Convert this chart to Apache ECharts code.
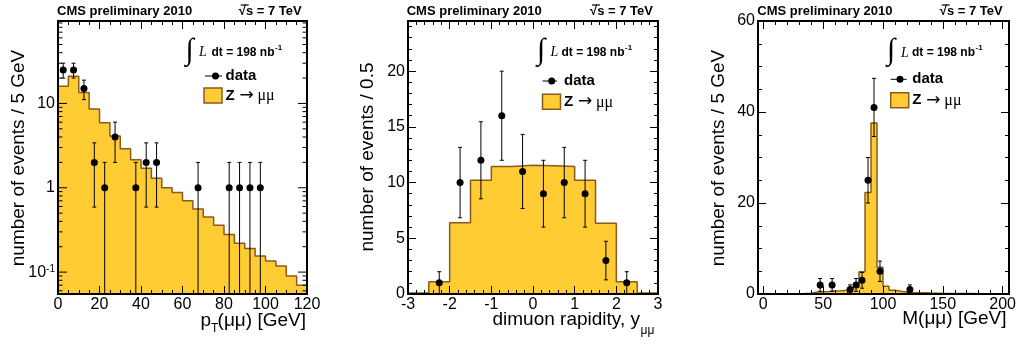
<!DOCTYPE html>
<html>
<head>
<meta charset="utf-8">
<script src="https://cdn.jsdelivr.net/npm/echarts@6/dist/echarts.min.js"></script>
<style>
  html, body { margin: 0; padding: 0; background: #fff; }
  #container { width: 1019px; height: 345px; }
</style>
</head>
<body>
<div id="container"></div>
<script>
// ---- panel 1: pT(mumu), log scale ----
const ptEdges = [0, 5, 10, 15, 20, 25, 30, 35, 40, 45, 50, 55, 60, 65, 70, 75, 80, 85, 90, 95, 100, 105, 110, 115, 120]
const ptMC = [16, 21, 13.5, 8.6, 5.9, 4.1, 2.9, 2.15, 1.7, 1.3, 1.0, 0.88, 0.7, 0.56, 0.45, 0.36, 0.28, 0.22, 0.19, 0.155, 0.135, 0.118, 0.09, 0.07]
const ptDataX = [2.5, 7.5, 12.5, 17.5, 22.5, 27.5, 37.5, 42.5, 47.5, 67.5, 82.5, 87.5, 92.5, 97.5]
const ptData = [25, 25, 15, 2, 1, 4, 1, 2, 2, 1, 1, 1, 1, 1]
const ptErrLo = [20, 20, 11.1, 0.59, 0, 2, 0, 0.59, 0.59, 0, 0, 0, 0, 0]
const ptErrHi = [30, 30, 18.9, 3.41, 2, 6, 2, 3.41, 3.41, 2, 2, 2, 2, 2]
const logMajorTicks = [0.1, 1, 10]
const logMinorTicks = [0.06, 0.07, 0.08, 0.09, 0.2, 0.3, 0.4, 0.5, 0.6, 0.7, 0.8, 0.9, 2, 3, 4, 5, 6, 7, 8, 9, 20, 30, 40, 50, 60, 70, 80, 90]

// ---- panel 2: dimuon rapidity ----
const yEdges = [-3, -2.5, -2, -1.5, -1, -0.5, 0, 0.5, 1, 1.5, 2, 2.5, 3]
const yMC = [0.1, 1.1, 6.4, 10.2, 11.45, 11.55, 11.5, 11.45, 10.2, 6.35, 1.1, 0.1]
const yDataX = [-2.25, -1.75, -1.25, -0.75, -0.25, 0.25, 0.75, 1.25, 1.75, 2.25]
const yData = [1, 10, 12, 16, 11, 9, 10, 9, 3, 1]
const yErrLo = [0, 6.84, 8.54, 12, 7.68, 6, 6.84, 6, 1.27, 0]
const yErrHi = [2, 13.16, 15.46, 20, 14.32, 12, 13.16, 12, 4.73, 2]

// ---- panel 3: M(mumu) ----
const mEdges = [0, 5, 10, 15, 20, 25, 30, 35, 40, 45, 50, 55, 60, 65, 70, 75, 80, 85, 90, 95, 100,
  105, 110, 115, 120, 125, 130, 135, 140, 145, 150, 155, 160, 165, 170, 175, 180, 185, 190, 195, 200]
const mMC = [0.05, 0.05, 0.05, 0.05, 0.08, 0.08, 0.1, 0.15,
  0.45, 0.5, 0.55, 0.65, 0.7, 0.8, 1.0, 1.5,
  4.9, 22.3, 37.6, 5.9,
  1.7, 0.8, 0.6, 0.45, 0.35, 0.3, 0.25, 0.2, 0.18, 0.15,
  0.13, 0.12, 0.1, 0.1, 0.09, 0.08, 0.08, 0.07, 0.06, 0.06]
const mDataX = [47.5, 57.5, 72.5, 77.5, 82.5, 87.5, 92.5, 97.5, 122.5]
const mData = [2, 2, 1, 2, 3, 25, 41, 5, 1]
const mErrLo = [0.59, 0.59, 0, 0.59, 1.27, 20, 34.6, 2.76, 0]
const mErrHi = [3.41, 3.41, 2, 3.41, 4.73, 30, 47.4, 7.24, 2]

const FONT = '"Liberation Sans", Arial, sans-serif'
const SERIF = '"Liberation Serif", "Times New Roman", serif'
const FILL = '#ffcc33'
const EDGE = '#8a5a1c'

const dom = document.getElementById('container')
const myChart = echarts.init(dom)

function stepData(edges, vals) {
    return edges.map((e, i) => [e, vals[Math.min(i, vals.length - 1)]])
}

function histSeries(xi, yi, edges, vals, origin) {
    return {
        type: 'line', xAxisIndex: xi, yAxisIndex: yi, step: 'end', symbol: 'none', silent: true,
        data: stepData(edges, vals),
        lineStyle: { color: EDGE, width: 1.5 },
        areaStyle: { color: FILL, opacity: 1, origin: origin },
        z: 2
    }
}

function pointSeries(xi, yi, xs, ys) {
    return {
        type: 'scatter', xAxisIndex: xi, yAxisIndex: yi, symbol: 'circle', symbolSize: 7,
        data: xs.map((x, i) => [x, ys[i]]),
        itemStyle: { color: '#000', opacity: 1 },
        z: 4
    }
}

function errSeries(xi, yi, xs, lo, hi, floor) {
    return {
        type: 'custom', xAxisIndex: xi, yAxisIndex: yi, silent: true, z: 3,
        data: xs.map((x, i) => [x, lo[i], hi[i]]),
        encode: { x: 0, y: [1, 2] },
        renderItem: (params, api) => {
            const x = api.value(0)
            const l = api.value(1)
            const h = api.value(2)
            const top = api.coord([x, h])
            const bot = api.coord([x, Math.max(l, floor)])
            const st = { stroke: '#000', lineWidth: 1 }
            const children = [
                { type: 'line', shape: { x1: top[0], y1: top[1], x2: bot[0], y2: bot[1] }, style: st },
                { type: 'line', shape: { x1: top[0] - 2, y1: top[1], x2: top[0] + 2, y2: top[1] }, style: st }
            ]
            if (l > floor) {
                children.push({ type: 'line', shape: { x1: bot[0] - 2, y1: bot[1], x2: bot[0] + 2, y2: bot[1] }, style: st })
            }
            return { type: 'group', children: children }
        }
    }
}

function logTickSeries() {
    const data = logMajorTicks.map(v => [0, v, 9]).concat(logMinorTicks.map(v => [0, v, 4.5]))
    return {
        type: 'custom', xAxisIndex: 0, yAxisIndex: 0, silent: true, clip: false, z: 10,
        data: data,
        renderItem: (params, api) => {
            const v = api.value(1)
            const len = api.value(2)
            const a = api.coord([0, v])
            const b = api.coord([120, v])
            const st = { stroke: '#000', lineWidth: 1 }
            return {
                type: 'group',
                children: [
                    { type: 'line', shape: { x1: a[0], y1: a[1], x2: a[0] + len, y2: a[1] }, style: st },
                    { type: 'line', shape: { x1: b[0] - len, y1: b[1], x2: b[0], y2: b[1] }, style: st }
                ]
            }
        }
    }
}

function axis(grid, pos, min, max, interval, minorSplit, labels, lineShow, ticksShow) {
    return {
        type: 'value', gridIndex: grid, position: pos, min: min, max: max, interval: interval, z: 10,
        axisLine: { show: lineShow, onZero: false, lineStyle: { color: '#000', width: 2 } },
        axisTick: { show: ticksShow, inside: true, length: 8, lineStyle: { color: '#000', width: 1 } },
        minorTick: { show: ticksShow, splitNumber: minorSplit, length: 4, lineStyle: { color: '#000', width: 1 } },
        axisLabel: { show: labels, color: '#000', fontSize: 16, fontFamily: FONT, margin: 3, showMaxLabel: pos === 'bottom' || max === 60 },
        splitLine: { show: false },
        minorSplitLine: { show: false }
    }
}

function logAxis(pos, labels) {
    return {
        type: 'log', logBase: 10, gridIndex: 0, position: pos, min: 0.055, max: 95, z: 10,
        axisLine: { show: true, onZero: false, lineStyle: { color: '#000', width: 2 } },
        axisTick: { show: false },
        minorTick: { show: false },
        axisLabel: {
            show: labels, color: '#000', fontSize: 16, fontFamily: FONT, margin: 3,
            showMinLabel: false, showMaxLabel: false,
            formatter: (v) => {
                const e = Math.round(Math.log10(v))
                if (e === 0) return '1'
                if (e === 1) return '10'
                return '10{sup|' + e + '}'
            },
            rich: { sup: { fontSize: 10, fontFamily: FONT, color: '#000', verticalAlign: 'top' } }
        },
        splitLine: { show: false }
    }
}

function txt(x, y, text, font, align, extra) {
    return Object.assign({
        type: 'text', x: x, y: y, z: 100,
        style: {
            text: text, font: font, fill: '#000',
            textAlign: align || 'left', textVerticalAlign: 'middle',
            align: align || 'left', verticalAlign: 'middle'
        }
    }, extra || {})
}

function header(left, right) {
    return [
        txt(left, 11.2, 'CMS preliminary 2010', 'bold 13px ' + FONT, 'left'),
        txt(right, 11.2, '√s = 7 TeV', 'bold 13px ' + FONT, 'right'),
        { type: 'line', z: 100, shape: { x1: right - 61, y1: 5, x2: right - 53, y2: 5 }, style: { stroke: '#000', lineWidth: 1.2 } }
    ]
}

function legend(p) {
    return [
        txt(p.intX, p.textY - 2, '∫', '30px ' + SERIF, 'left'),
        txt(p.lX, p.textY, 'L', 'italic 14px ' + SERIF, 'left'),
        txt(p.dtX, p.textY, 'dt = 198 nb', 'bold 12px ' + FONT, 'left'),
        txt(p.dtX + 63.5, p.textY - 5, '-1', 'bold 8px ' + FONT, 'left'),
        { type: 'line', z: 100, shape: { x1: p.lineX1, y1: p.dataY, x2: p.lineX2, y2: p.dataY }, style: { stroke: '#000', lineWidth: 1 } },
        { type: 'circle', z: 100, shape: { cx: p.dotX, cy: p.dataY, r: 3.5 }, style: { fill: '#000' } },
        txt(p.dataX, p.dataY, 'data', 'bold 15px ' + FONT, 'left'),
        { type: 'rect', z: 100, shape: { x: p.boxX, y: p.boxY, width: 18, height: 15 }, style: { fill: FILL, stroke: EDGE, lineWidth: 1.5 } },
        txt(p.dataX, p.boxY + 7.5, 'Z', 'bold 15px ' + FONT, 'left'),
        txt(p.dataX + 14, p.boxY + 7.5, '→', '17px "DejaVu Sans", sans-serif', 'left'),
        txt(p.dataX + 32, p.boxY + 8, 'μμ', '16px ' + SERIF, 'left')
    ]
}

function yName(x, y, text) {
    return txt(x, y, text, '19px ' + FONT, 'center', { rotation: Math.PI / 2 })
}

const graphics = [].concat(
    header(57, 301.7),
    header(406.7, 653),
    header(757.3, 1002.7),
    legend({ intX: 185.5, lX: 199, dtX: 211.5, textY: 52.7, lineX1: 205, lineX2: 222, dotX: 215.5, dataY: 76, dataX: 225.5, boxX: 204, boxY: 88 }),
    legend({ intX: 537, lX: 550.5, dtX: 561.5, textY: 52.7, lineX1: 542.5, lineX2: 557, dotX: 551.7, dataY: 81, dataX: 564, boxX: 542.5, boxY: 94.3 }),
    legend({ intX: 887, lX: 901, dtX: 912, textY: 53, lineX1: 890.7, lineX2: 906.7, dotX: 900, dataY: 79.3, dataX: 912.3, boxX: 890.7, boxY: 92.7 }),
    [
        yName(18.3, 158, 'number of events / 5 GeV'),
        yName(367.5, 157, 'number of events / 0.5'),
        yName(719, 158, 'number of events / 5 GeV'),
        txt(306, 321, '(μμ) [GeV]', '19px ' + FONT, 'right'),
        txt(211, 321, 'p', '19px ' + FONT, 'right'),
        txt(211, 329, 'T', '12px ' + FONT, 'left'),
        txt(640, 320, 'dimuon rapidity, y', '19px ' + FONT, 'right'),
        txt(640.5, 331, 'μμ', '12px ' + FONT, 'left'),
        txt(1006.5, 318.5, 'M(μμ) [GeV]', '19px ' + FONT, 'right')
    ]
)

const option = {
    animation: false,
    backgroundColor: '#fff',
    grid: [
        { left: 58, top: 21, width: 249, height: 273 },
        { left: 408, top: 21, width: 250, height: 273 },
        { left: 758, top: 21, width: 251, height: 273 },
        { left: 763.3, top: 21, width: 243.4, height: 273 }
    ],
    xAxis: [
        axis(0, 'bottom', 0, 120, 20, 4, true, true, true),
        axis(0, 'top', 0, 120, 20, 4, false, true, true),
        axis(1, 'bottom', -3, 3, 1, 5, true, true, true),
        axis(1, 'top', -3, 3, 1, 5, false, true, true),
        axis(2, 'bottom', 0, 1, 1, 1, false, true, false),
        axis(2, 'top', 0, 1, 1, 1, false, true, false),
        axis(3, 'bottom', 0, 200, 50, 5, true, false, true),
        axis(3, 'top', 0, 200, 50, 5, false, false, true)
    ],
    yAxis: [
        logAxis('left', true),
        logAxis('right', false),
        axis(1, 'left', 0, 24.5, 5, 5, true, true, true),
        axis(1, 'right', 0, 24.5, 5, 5, false, true, true),
        axis(2, 'left', 0, 60, 20, 4, true, true, true),
        axis(2, 'right', 0, 60, 20, 4, false, true, true),
        Object.assign(axis(3, 'left', 0, 60, 20, 4, false, false, false), { show: false })
    ],
    series: [
        histSeries(0, 0, ptEdges, ptMC, 'start'),
        errSeries(0, 0, ptDataX, ptErrLo, ptErrHi, 0.055),
        pointSeries(0, 0, ptDataX, ptData),
        logTickSeries(),
        histSeries(2, 2, yEdges, yMC, 'start'),
        errSeries(2, 2, yDataX, yErrLo, yErrHi, 0),
        pointSeries(2, 2, yDataX, yData),
        histSeries(6, 6, mEdges, mMC, 'start'),
        errSeries(6, 6, mDataX, mErrLo, mErrHi, 0),
        pointSeries(6, 6, mDataX, mData)
    ],
    graphic: graphics
}

myChart.setOption(option)
</script>
</body>
</html>
